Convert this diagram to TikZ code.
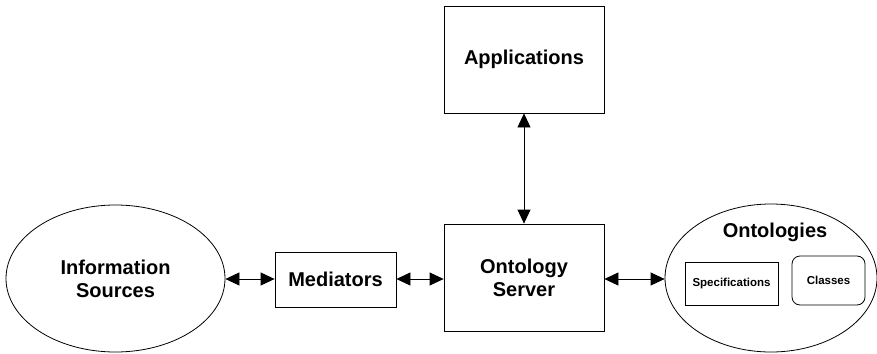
\documentclass[tikz,border=0pt]{standalone}
\usepackage{fontspec}
\setmainfont{Liberation Sans}
\usetikzlibrary{arrows.meta,shapes.geometric}
\begin{document}
\begin{tikzpicture}[x=1pt,y=-1pt,
  every node/.style={font=\bfseries\fontsize{20}{23}\selectfont, align=center, inner sep=0pt, line width=0.8pt},
  box/.style={draw, rectangle},
  oval/.style={draw, ellipse},
  small/.style={font=\bfseries\fontsize{11.5}{13}\selectfont},
  conn/.style={line width=0.8pt, {Triangle[length=14pt,width=13pt]}-{Triangle[length=14pt,width=13pt]}}]
\useasboundingbox (0,0) rectangle (877,353);
\node[oval, minimum width=219pt, minimum height=147pt] (info) at (115.5,278.5) {Information\\Sources};
\node[box, minimum width=121pt, minimum height=55pt] (med) at (335.5,279.5) {Mediators};
\node[box, minimum width=160pt, minimum height=107pt] (srv) at (524,277.5) {Ontology\\Server};
\node[box, minimum width=160pt, minimum height=107pt] (app) at (524,59.5) {Applications};
\node[oval, minimum width=212pt, minimum height=148pt] (ont) at (771,278) {};
\node (ontl) at (775,232) {Ontologies};
\node[box, small, minimum width=93pt, minimum height=43pt] (spec) at (731.5,283.5) {Specifications};
\node[box, small, rounded corners=8pt, minimum width=73pt, minimum height=49pt] (cls) at (828.5,280.5) {Classes};
\draw[conn] (info.east |- 0,279) -- (med.west |- 0,279);
\draw[conn] (med.east |- 0,279) -- (srv.west |- 0,279);
\draw[conn] (srv.east |- 0,279) -- (ont.west |- 0,279);
\draw[conn] (app.south) -- (srv.north);
\end{tikzpicture}
\end{document}
